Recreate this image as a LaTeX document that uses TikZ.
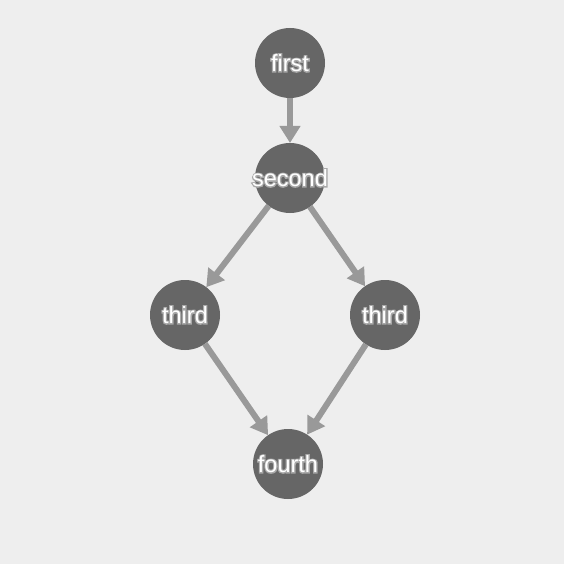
\documentclass[tikz,border=0pt]{standalone}
\usepackage{fontspec}
\setmainfont{Liberation Sans}
\usetikzlibrary{arrows.meta}
\definecolor{bg}{HTML}{EEEEEE}
\definecolor{nodefill}{HTML}{666666}
\definecolor{edgecol}{HTML}{999999}
\definecolor{halo}{HTML}{A8A8A8}
\newcommand\hl[1]{\makebox[0pt]{%
  \rlap{\color{halo}\special{pdf:literal direct 2 Tr 2.4 w}#1\special{pdf:literal direct 0 Tr 1 w}}%
  {\color{white}#1}}}
\begin{document}
\begin{tikzpicture}[x=1pt,y=-1pt,
  vertex/.style={circle,fill=nodefill,minimum size=70pt,inner sep=0pt,outer sep=0pt,
    font=\fontsize{23.5}{23.5}\selectfont},
  link/.style={draw=edgecol,line width=6pt,-{Triangle[width=20pt,length=17pt]}}]
\fill[bg] (0,0) rectangle (564,564);
\useasboundingbox (0,0) rectangle (564,564);
\node[vertex] (first) at (290,63) {\hl{first}};
\node[vertex] (second) at (290,178) {\hl{second}};
\node[vertex] (thirdL) at (185,315) {\hl{third}};
\node[vertex] (thirdR) at (385,315) {\hl{third}};
\node[vertex] (fourth) at (288,464) {\hl{fourth}};
\draw[link] (first) -- (second);
\draw[link] (second) -- (thirdL);
\draw[link] (second) -- (thirdR);
\draw[link] (thirdL) -- (fourth);
\draw[link] (thirdR) -- (fourth);
\end{tikzpicture}
\end{document}
